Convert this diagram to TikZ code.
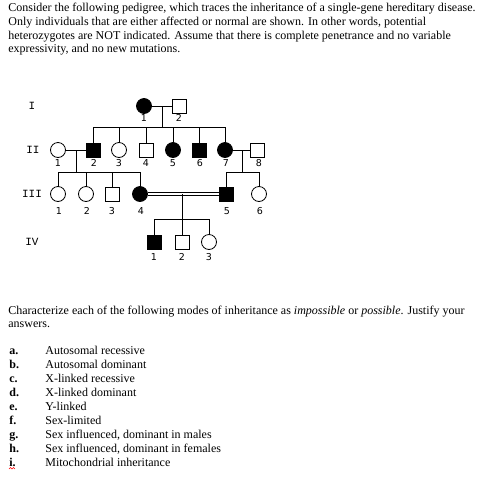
\documentclass[tikz,border=0pt]{standalone}
\usepackage{fontspec}
\setmainfont{Liberation Serif}
\newfontfamily\monofont{Liberation Mono}
\newfontfamily\numfont{DejaVu Sans}
\begin{document}
\begin{tikzpicture}[x=1pt,y=-1pt,
  line width=0.8pt,
  sq/.style={draw, minimum size=14pt, inner sep=0pt, fill=white},
  ci/.style={draw, circle, minimum size=15pt, inner sep=0pt, fill=white},
  aff/.style={fill=black},
  num/.style={font=\numfont\fontsize{9.5}{10}\selectfont, inner sep=0pt},
  gen/.style={font=\monofont\fontsize{11}{11}\selectfont, inner sep=0pt},
  txt/.style={font=\fontsize{12}{14}\selectfont, anchor=base west, inner sep=0pt},
  lbl/.style={font=\bfseries\fontsize{12}{14}\selectfont, anchor=base west, inner sep=0pt}]
\useasboundingbox (0,0) rectangle (503,480);
\fill[white] (0,0) rectangle (503,480);

% intro text
\node[txt] (t1) at (8,11) {Consider the following pedigree, which traces the inheritance of a single-gene hereditary disease.};
\node[txt] (t2) at (8,25) {Only individuals that are either affected or normal are shown. In other words, potential};
\node[txt] (t3) at (8,39) {heterozygotes are NOT indicated. Assume that there is complete penetrance and no variable};
\node[txt] (t4) at (8,52) {expressivity, and no new mutations.};

% generation labels
\node[gen] (gI) at (32,106) {I};
\node[gen] (gII) at (33,150) {II};
\node[gen] (gIII) at (32,194) {III};
\node[gen] (gIV) at (32,242) {IV};

% Gen I
\node[ci,aff] (i1) at (144,106) {};
\node[sq] (i2) at (179,106) {};
\node[num] (ni1) at (144,118) {1};
\node[num] (ni2) at (179,118) {2};
\coordinate (m1) at (162,106);
\coordinate (s1) at (162,127);
\draw (i1.east) -- (i2.west);
\draw (m1) -- (s1);

% Gen II
\node[ci] (ii1) at (58,150) {};
\node[sq,aff] (ii2) at (93,150) {};
\node[ci] (ii3) at (119,150) {};
\node[sq] (ii4) at (146,150) {};
\node[ci,aff] (ii5) at (173,150) {};
\node[sq,aff] (ii6) at (199,150) {};
\node[ci,aff] (ii7) at (225,150) {};
\node[sq] (ii8) at (257,150) {};
\foreach \n/\x in {1/58,2/94,3/119,4/146,5/173,6/200,7/226,8/259}
  \node[num] (nii\n) at (\x,163) {\n};
\draw (s1) -| (ii2.north);
\draw (s1) -| (ii7.north);
\foreach \k in {3,4,5,6} \draw (ii\k.north) -- (ii\k.north |- s1);
\draw (ii1.east) -- (ii2.west);
\draw (ii7.east) -- (ii8.west);
\coordinate (m2) at (76,150);
\coordinate (s2) at (76,172);
\coordinate (m3) at (242,150);
\coordinate (s3) at (242,172);
\draw (m2) -- (s2);
\draw (m3) -- (s3);

% Gen III
\node[ci] (iii1) at (58,194) {};
\node[ci] (iii2) at (86,194) {};
\node[sq] (iii3) at (112,194) {};
\node[ci,aff] (iii4) at (140,194) {};
\node[sq,aff] (iii5) at (226,194) {};
\node[ci] (iii6) at (259,194) {};
\foreach \n/\x in {1/59,2/87,3/112,4/141,5/227,6/260}
  \node[num] (niii\n) at (\x,211) {\n};
\draw (s2) -| (iii1.north);
\draw (s2) -| (iii4.north);
\draw (iii2.north) -- (iii2.north |- s2);
\draw (iii3.north) -- (iii3.north |- s2);
\draw (s3) -| (iii5.north);
\draw (s3) -| (iii6.north);
\draw[double, double distance=2pt, line width=0.7pt] (iii4.east) -- (iii5.west);
\coordinate (m4) at (182,194);
\coordinate (s4) at (182,219);
\draw (m4) -- (s4);

% Gen IV
\node[sq,aff] (iv1) at (154,242) {};
\node[sq] (iv2) at (182,242) {};
\node[ci] (iv3) at (209,242) {};
\foreach \n/\x in {1/154,2/182,3/209}
  \node[num] (niv\n) at (\x,257) {\n};
\draw (s4) -| (iv1.north);
\draw (s4) -| (iv3.north);
\draw (iv2.north) -- (s4);

% question text
\node[txt] (q1) at (8,314) {Characterize each of the following modes of inheritance as \textit{impossible} or \textit{possible}. Justify your};
\node[txt] (q2) at (8,327) {answers.};

% list
\foreach \l/\t/\y in {a./Autosomal recessive/354, b./Autosomal dominant/368, c./X-linked recessive/382, d./X-linked dominant/396, e./Y-linked/410, f./Sex-limited/424, g./{Sex influenced, dominant in males}/438, h./{Sex influenced, dominant in females}/452, i./Mitochondrial inheritance/466}{
  \node[lbl] (l\l) at (9,\y) {\l};
  \node[txt] (d\l) at (45,\y) {\t};
}
\draw[red, line width=0.5pt] (9,469) -- (10.5,467.5) -- (12,469) -- (13.5,467.5) -- (15,469);
\end{tikzpicture}
\end{document}
